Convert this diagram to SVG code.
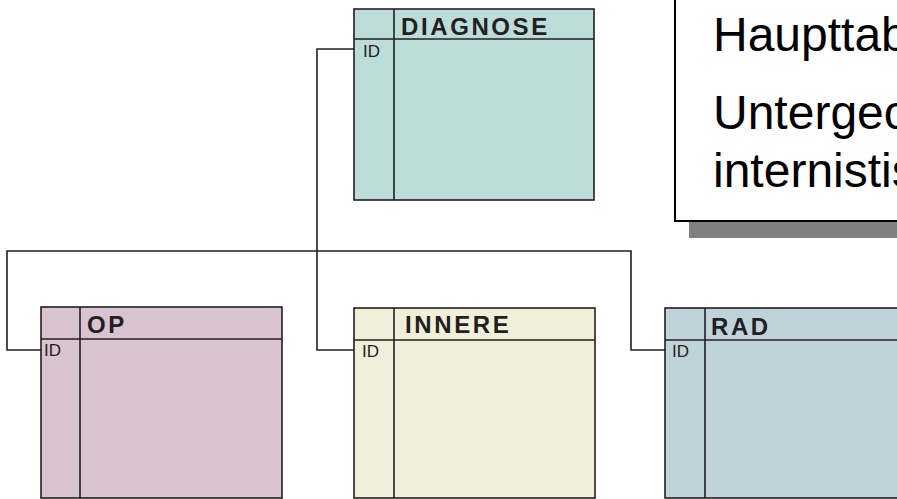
<svg xmlns="http://www.w3.org/2000/svg" width="897" height="499" viewBox="0 0 897 499">
<style>
.tbl{stroke:#231f20;stroke-width:1.6}
.ln{fill:none;stroke:#231f20;stroke-width:1.6}
.hd{font-family:"Liberation Sans",Arial,sans-serif;font-weight:bold;font-size:24px;letter-spacing:2.6px;fill:#231f20}
.id{font-family:"Liberation Sans",Arial,sans-serif;font-size:17px;fill:#231f20}
.big{font-family:"Liberation Sans",Arial,sans-serif;font-size:48px;fill:#000}
</style>
<rect width="897" height="499" fill="#fff"/>
<g id="connectors">
<path class="ln" d="M354,49 H317 V350 H354"/>
<path class="ln" d="M317,251 H7 V350 H41"/>
<path class="ln" d="M317,251 H631 V350 H665"/>
</g>
<g id="diagnose">
<rect class="tbl" x="354" y="9" width="240" height="191" fill="#bcdcda"/>
<line class="tbl" x1="354" y1="39" x2="594" y2="39"/>
<line class="tbl" x1="394" y1="9" x2="394" y2="200"/>
<text class="hd" x="401" y="35">DIAGNOSE</text>
<text class="id" x="363" y="57">ID</text>
</g>
<g id="op">
<rect class="tbl" x="41" y="307" width="241" height="191" fill="#d8c3d0"/>
<line class="tbl" x1="41" y1="339" x2="282" y2="339"/>
<line class="tbl" x1="80" y1="307" x2="80" y2="498"/>
<text class="hd" x="87" y="333">OP</text>
<text class="id" x="44" y="356">ID</text>
</g>
<g id="innere">
<rect class="tbl" x="354" y="308" width="241" height="190" fill="#f0f0da"/>
<line class="tbl" x1="354" y1="340" x2="595" y2="340"/>
<line class="tbl" x1="394" y1="308" x2="394" y2="498"/>
<text class="hd" x="405" y="333">INNERE</text>
<text class="id" x="362" y="357">ID</text>
</g>
<g id="rad">
<rect class="tbl" x="665" y="308" width="241" height="190" fill="#bfd3da"/>
<line class="tbl" x1="665" y1="340" x2="906" y2="340"/>
<line class="tbl" x1="705" y1="308" x2="705" y2="498"/>
<text class="hd" x="711" y="335">RAD</text>
<text class="id" x="672" y="357">ID</text>
</g>
<g id="note">
<rect x="689" y="7" width="220" height="231" fill="#808080"/>
<rect x="675" y="-10" width="230" height="231" fill="#fff" stroke="#000" stroke-width="2"/>
<text class="big" x="713" y="51">Haupttab</text>
<text class="big" x="713" y="129">Untergeo</text>
<text class="big" x="713" y="187">internistis</text>
</g>
</svg>
